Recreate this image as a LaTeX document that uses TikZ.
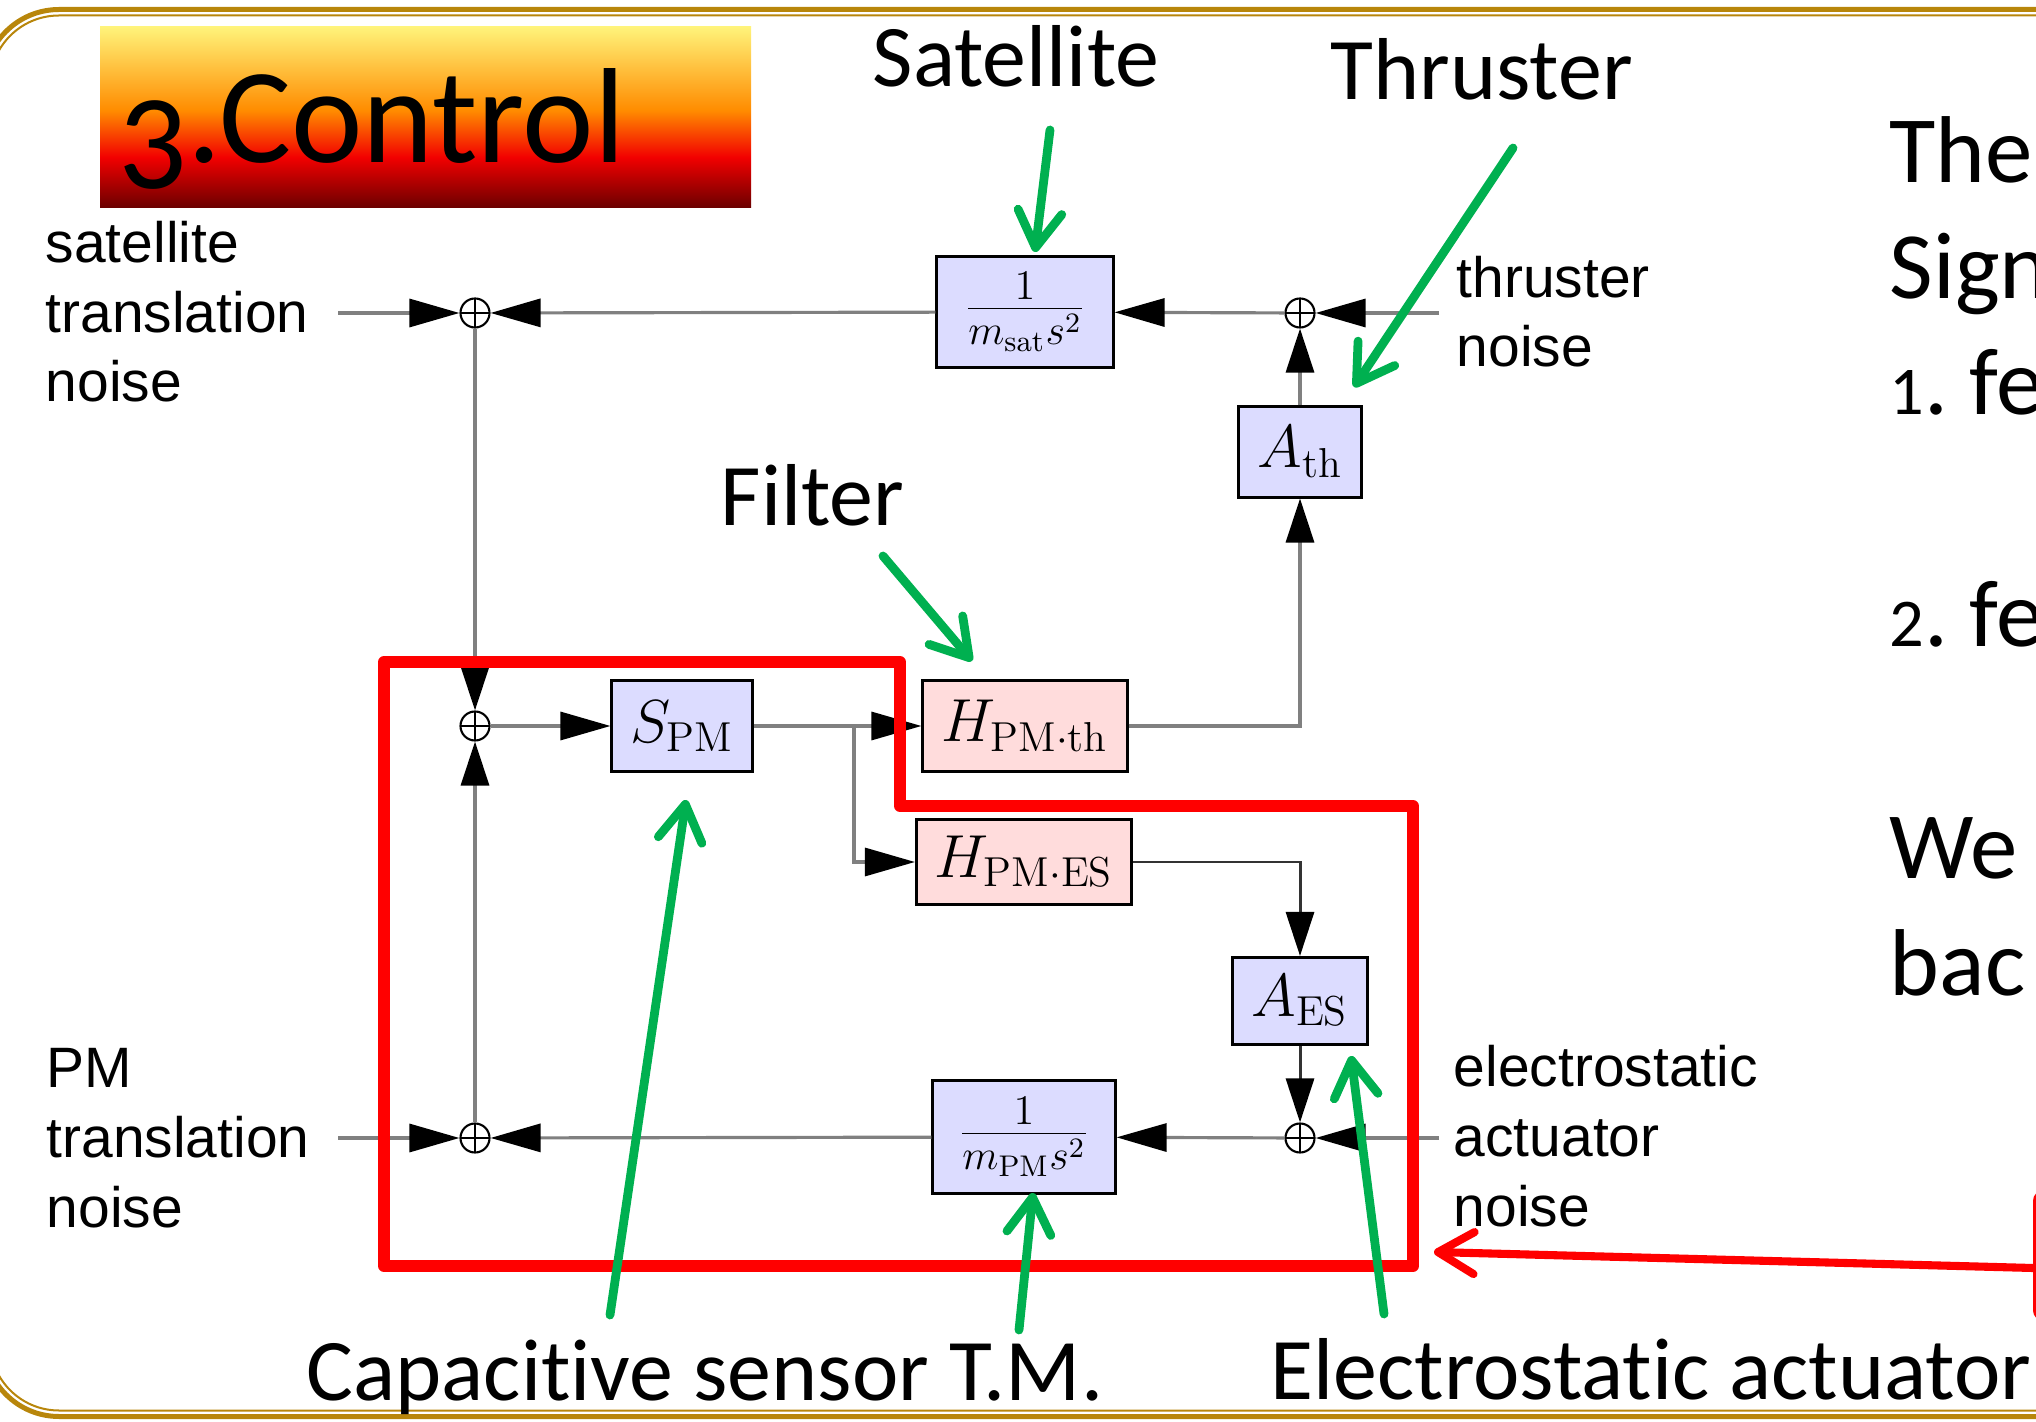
\documentclass[tikz,border=0pt]{standalone}
\usepackage{fontspec}
\newfontfamily\slidefont[Ligatures=NoCommon]{Carlito}
\newfontfamily\arialfont{Liberation Sans}
\usetikzlibrary{arrows.meta}
\definecolor{gold}{HTML}{B8860B}
\definecolor{blkblue}{HTML}{DCDCFF}
\definecolor{blkpink}{HTML}{FFDCDC}
\definecolor{linegray}{HTML}{808080}
\definecolor{callgreen}{HTML}{00B050}
\definecolor{tyellow}{HTML}{FFF37A}
\definecolor{torange}{HTML}{FF8C00}
\definecolor{tred}{HTML}{F20000}
\definecolor{tdark}{HTML}{6A0000}
\pgfdeclareverticalshading{titleshade}{100bp}{color(0bp)=(tdark); color(25bp)=(tdark); color(39bp)=(tred); color(52bp)=(torange); color(75bp)=(tyellow); color(100bp)=(tyellow)}
% old-style looking figures
\newcommand{\smallfig}[1]{\scalebox{0.72}{#1}}
\begin{document}
\begin{tikzpicture}[x=0.01cm,y=-0.01cm,
  blk/.style={draw=black, line width=0.85pt, fill=blkblue, inner sep=0pt, font=\fontsize{17}{20}\selectfont},
  hblk/.style={blk, fill=blkpink},
  sumc/.style={circle, draw=black, fill=white, line width=0.6pt, minimum size=0.29cm, inner sep=0pt,
    path picture={\draw[black, line width=0.5pt] (path picture bounding box.north) -- (path picture bounding box.south) (path picture bounding box.west) -- (path picture bounding box.east);}},
  sig/.style={draw=linegray, line width=0.9pt},
  darksig/.style={draw=black!80, line width=0.85pt},
  harrowtip/.style={-{Triangle[length=5mm,width=2.8mm,color=black,fill=black]}},
  varrowtip/.style={-{Triangle[length=4.4mm,width=2.8mm,color=black,fill=black]}},
  gcall/.style={draw=callgreen, line width=2.5pt, line cap=round, -{Straight Barb[length=3.6mm,width=4.4mm,round]}},
  rcall/.style={draw=red, line width=2.3pt, line cap=round, -{Straight Barb[length=3.6mm,width=4.2mm,round]}},
  calltext/.style={font=\slidefont\fontsize{25}{30}\selectfont, anchor=base west, inner sep=0pt},
  noisetext/.style={font=\arialfont\fontsize{16.2}{19.8}\selectfont, anchor=base west, align=left, inner sep=0pt},
]
\useasboundingbox (0,0) rectangle (2036,1422);
\clip (0,0) rectangle (2036,1422);

% slide frame
\draw[gold, line width=1.42pt, rounded corners=0.75cm] (-16,9.5) rectangle (2150,1416.5);
\draw[gold, line width=0.57pt, rounded corners=0.69cm] (-10,15.5) rectangle (2144,1410.5);

% title
\path[shading=titleshade] (100,27) rectangle (751,208);
\node[font=\slidefont\fontsize{38.5}{40}\selectfont, anchor=base west, inner sep=0pt] (title) at (118,163) {\raisebox{-0.25cm}{3}.Control};

% right text (cut off); anchor is the baseline of the last line
\node[font=\slidefont\fontsize{27}{33}\selectfont, anchor=base west, align=left, inner sep=0pt] (body) at (1889,995)
  {The\\Sign\\\smallfig{1}.\ fe\\[33pt]\smallfig{2}.\ fe\\[33pt]We\\bac};

% blocks
\node[blk, minimum width=1.76cm, minimum height=1.10cm] (msat) at (1025,312) {$\frac{1}{m_{\mathrm{sat}}s^2}$};
\node[blk, minimum width=1.23cm, minimum height=0.90cm] (Ath) at (1300,452) {$A_{\mathrm{th}}$};
\node[blk, minimum width=1.40cm, minimum height=0.90cm] (SPM) at (682,726) {$S_{\mathrm{PM}}$};
\node[hblk, minimum width=2.04cm, minimum height=0.90cm] (Hth) at (1025,726) {$H_{\mathrm{PM}\cdot\mathrm{th}}$};
\node[hblk, minimum width=2.15cm, minimum height=0.85cm] (HES) at (1024,862) {$H_{\mathrm{PM}\cdot\mathrm{ES}}$};
\node[blk, minimum width=1.34cm, minimum height=0.87cm] (AES) at (1300,1001) {$A_{\mathrm{ES}}$};
\node[blk, minimum width=1.82cm, minimum height=1.13cm] (mPM) at (1024,1137) {$\frac{1}{m_{\mathrm{PM}}s^2}$};

% summing junctions
\node[sumc] (s1) at (475,313) {};
\node[sumc] (s2) at (1300,313) {};
\node[sumc] (s3) at (475,726) {};
\node[sumc] (s4) at (475,1138) {};
\node[sumc] (s5) at (1300,1138) {};

\coordinate (in1) at (338,313);
\coordinate (in2) at (1439,313);
\coordinate (in3) at (1439,1138);
\coordinate (in4) at (338,1138);
\coordinate (br) at (854,726);

% signal lines
\draw[sig,harrowtip] (in1) -- (s1);
\draw[sig,harrowtip] (msat) -- (s1);
\draw[sig,harrowtip] (s2) -- (msat);
\draw[sig,harrowtip] (in2) -- (s2);
\draw[sig,varrowtip] (Ath) -- (s2);
\draw[sig,varrowtip] (Hth.east) -| (Ath.south);
\draw[sig,varrowtip] (s1) -- (s3);
\draw[sig,varrowtip] (s4) -- (s3);
\draw[sig,harrowtip] (s3) -- (SPM);
\draw[sig,harrowtip] (SPM.east) -- (Hth.west);
\draw[sig,harrowtip] (br) |- (HES.west);
\draw[darksig,varrowtip] (HES.east) -| (AES.north);
\draw[darksig,varrowtip] (AES) -- (s5);
\draw[sig,harrowtip] (in3) -- (s5);
\draw[sig,harrowtip] (s5) -- (mPM);
\draw[sig,harrowtip] (mPM) -- (s4);
\draw[sig,harrowtip] (in4) -- (s4);

% noise labels (anchored at the baseline of their last line)
\node[noisetext] (satnoise) at (45,402) {satellite\\translation\\noise};
\node[noisetext] (thrnoise) at (1456,367) {thruster\\noise};
\node[noisetext] (pmnoise) at (46,1227) {PM\\translation\\noise};
\node[noisetext] (esnoise) at (1453,1226) {electrostatic\\actuator\\noise};

% red outline of the PM loop
\draw[red, line width=3.4pt, line join=round] (384,662) -- (900,662) -- (900,806) -- (1413,806) -- (1413,1266) -- (384,1266) -- cycle;

% red box at right edge and its arrow
\node[draw=red, line width=2.3pt, rounded corners=2pt, minimum width=2cm, minimum height=1.23cm, anchor=north west, inner sep=0pt] (redbox) at (2033,1190) {};
\coordinate (rs) at (2033,1268);
\coordinate (rt) at (1434,1252);
\draw[rcall] (rs) -- (rt);

% callout labels
\node[calltext] (lsat) at (872,87) {Satellite};
\node[calltext] (lthr) at (1330,100) {Thruster};
\node[calltext] (lfil) at (720,526) {Filter};
\node[calltext] (lcap) at (306,1400) {Capacitive sensor};
\node[calltext] (ltm) at (949,1400) {T.M.};
\node[calltext] (lea) at (1270,1399) {Electrostatic actuator};

% green callout arrows
\coordinate (g1s) at (1050,130); \coordinate (g1t) at (1035,252);
\coordinate (g2s) at (1513,148); \coordinate (g2t) at (1354,387);
\coordinate (g3s) at (883,556);  \coordinate (g3t) at (972,661);
\coordinate (g4s) at (610,1315); \coordinate (g4t) at (686,800);
\coordinate (g5s) at (1019,1330); \coordinate (g5t) at (1033,1193);
\coordinate (g6s) at (1384,1314); \coordinate (g6t) at (1351,1056);
\draw[gcall] (g1s) -- (g1t);
\draw[gcall] (g2s) -- (g2t);
\draw[gcall] (g3s) -- (g3t);
\draw[gcall] (g4s) -- (g4t);
\draw[gcall] (g5s) -- (g5t);
\draw[gcall] (g6s) -- (g6t);
\end{tikzpicture}
\end{document}
